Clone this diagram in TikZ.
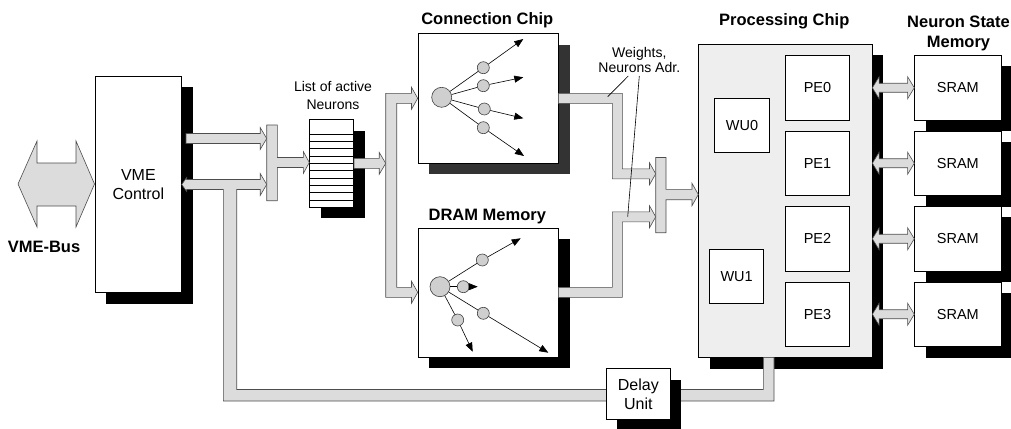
\documentclass[tikz,border=0pt]{standalone}
\usepackage{fontspec}
\setmainfont{Liberation Sans}
\usetikzlibrary{shadows,arrows.meta,calc}
\definecolor{busfill}{HTML}{DCDCDC}
\definecolor{busline}{HTML}{4D4D4D}
\definecolor{chipfill}{HTML}{EEEEEE}
\definecolor{cellfill}{HTML}{CFCFCF}
\tikzset{
  box/.style={draw, fill=white, line width=0.7pt, inner sep=0pt, align=center, anchor=north west},
  shadowed/.style={drop shadow={shadow xshift=11pt, shadow yshift=-11pt, fill=#1, opacity=1}},
  shadowed/.default=black,
  bus/.style={fill=busfill, draw=busline, line width=0.6pt, line join=miter},
  busR/.style={bus, to path={let \p1=(\tikztostart), \p2=(\tikztotarget) in
      (\x1,\y1+5pt) -- (\x2-6.5pt,\y1+5pt) -- (\x2-6.5pt,\y1+11pt) -- (\x2,\y1)
      -- (\x2-6.5pt,\y1-11pt) -- (\x2-6.5pt,\y1-5pt) -- (\x1,\y1-5pt) -- cycle}},
  busLR/.style={bus, to path={let \p1=(\tikztostart), \p2=(\tikztotarget) in
      (\x1,\y1) -- (\x1+6.7pt,\y1+11pt) -- (\x1+6.7pt,\y1+4.5pt) -- (\x2-6.7pt,\y1+4.5pt)
      -- (\x2-6.7pt,\y1+11pt) -- (\x2,\y1) -- (\x2-6.7pt,\y1-11pt) -- (\x2-6.7pt,\y1-4.5pt)
      -- (\x1+6.7pt,\y1-4.5pt) -- (\x1+6.7pt,\y1-11pt) -- cycle}},
  neuron/.style={circle, draw=black!75, fill=cellfill, line width=0.6pt, inner sep=0pt, minimum size=#1},
  neuron/.default=12pt,
  chiptitle/.style={font=\fontsize{16.5}{20}\selectfont\bfseries, align=center},
  smalltext/.style={font=\fontsize{14}{18.3}\selectfont, align=center},
  fan/.style={line width=0.6pt, -{Triangle[length=9pt,width=7pt]}},
}
\begin{document}
\begin{tikzpicture}[x=1pt, y=-1pt, line join=miter, font=\fontsize{14.5}{18}\selectfont]
\useasboundingbox (0,0) rectangle (1011,428);
\clip (0,0) rectangle (1011,428);

\node[box, shadowed, minimum width=86.6pt, minimum height=216.3pt, font=\fontsize{16}{19}\selectfont] (vme) at (94.7,76) {VME\\Control};
\node[box, shadowed, minimum width=44pt, minimum height=87.4pt] (lst) at (309.3,119.3) {};
\foreach \i in {0,...,9}
  \draw[line width=0.6pt] (lst.north west) ++(0,14.7+7.33*\i) -- ++(44,0);
\node[box, shadowed=black!80, minimum width=140.6pt, minimum height=129.4pt] (cchip) at (417.7,33.3) {};
\node[box, shadowed, minimum width=140.6pt, minimum height=129pt] (dram) at (417.7,227.7) {};
\node[box, shadowed, fill=chipfill, minimum width=173.4pt, minimum height=313.3pt] (pchip) at (698.3,44) {};
\node[box, minimum width=54.7pt, minimum height=54pt] (wu0) at (714.3,98.3) {WU0};
\node[box, minimum width=54pt, minimum height=54pt] (wu1) at (709.3,249.3) {WU1};
\foreach \i/\y in {0/55,1/130.5,2/206,3/281.5}{
  \node[box, minimum width=64.3pt, minimum height=64.8pt] (pe\i) at (785,\y) {PE\i};
  \node[box, shadowed, minimum width=86.4pt, minimum height=64.8pt] (sram\i) at (914.3,\y) {SRAM};
}

\path (186,138.5) coordinate (v1) (266.7,138.5) coordinate (m1a) (385.7,162.5) coordinate (br);
% busse
\filldraw[bus] (18,184) -- (37,141) -- (37,163) -- (76,163) -- (76,141) -- (94.5,184)
  -- (76,227) -- (76,206) -- (37,206) -- (37,227) -- cycle;
\draw[busR] (v1) to (m1a);
\filldraw[bus] (181.7,184.5) -- (186.7,177.5) -- (186.7,179.5) -- (260.2,179.5) -- (260.2,173.5)
  -- (266.7,184.5) -- (260.2,195.5) -- (260.2,189.5) -- (236.7,189.5) -- (236.7,389.5)
  -- (763.3,389.5) -- (763.3,357.3) -- (774,357.3) -- (774,401) -- (223.3,401)
  -- (223.3,189.5) -- (186.7,189.5) -- (186.7,191.5) -- cycle;
\filldraw[bus] (266.7,125) -- (277.3,125) -- (277.3,157.5) -- (303.3,157.5) -- (303.3,151.5)
  -- (309.3,162.5) -- (303.3,173.5) -- (303.3,167.5) -- (277.3,167.5) -- (277.3,200.7)
  -- (266.7,200.7) -- cycle;
\draw[busR] (lst.east) to (br);
\filldraw[bus] (385.7,93.3) -- (411.5,93.3) -- (411.5,87.3) -- (417.7,98.3) -- (411.5,109.3)
  -- (411.5,103.3) -- (396.7,103.3) -- (396.7,287.3) -- (411.5,287.3) -- (411.5,281.3)
  -- (417.7,292.3) -- (411.5,303.3) -- (411.5,297.3) -- (385.7,297.3) -- cycle;
\filldraw[bus] (558.3,93.3) -- (622.3,93.3) -- (622.3,168.8) -- (649.5,168.8) -- (649.5,162.8)
  -- (655.7,173.8) -- (649.5,184.8) -- (649.5,178.8) -- (612.3,178.8) -- (612.3,103.3)
  -- (558.3,103.3) -- cycle;
\filldraw[bus] (558.3,297.3) -- (622.3,297.3) -- (622.3,221.8) -- (649.5,221.8) -- (649.5,227.8)
  -- (655.7,216.8) -- (649.5,205.8) -- (649.5,211.8) -- (612.3,211.8) -- (612.3,287.3)
  -- (558.3,287.3) -- cycle;
\filldraw[bus] (655.7,157.5) -- (666,157.5) -- (666,189.3) -- (692,189.3) -- (692,183.3)
  -- (698.3,194.5) -- (692,205.7) -- (692,199.7) -- (666,199.7) -- (666,232.7)
  -- (655.7,232.7) -- cycle;
\foreach \i in {0,...,3}
  \draw[busLR] (pchip.east |- pe\i.east) to (sram\i.west);

\node[box, shadowed, minimum width=64pt, minimum height=51pt, font=\fontsize{16}{19.3}\selectfont] (delay) at (606,368.3) {Delay\\Unit};

% neuronen
\node[neuron=20pt] (cbig) at (441.7,97.3) {};
\foreach \n/\sx/\sy/\tx/\ty in {1/483.3/67.7/523.3/39, 2/483.3/85.7/523.3/77.3, 3/484.3/109/523.3/118.3, 4/483.3/127.7/524/156}{
  \node[neuron] (cs\n) at (\sx,\sy) {};
  \coordinate (ct\n) at (\tx,\ty);
  \draw[line width=0.6pt] (cbig) -- (cs\n);
  \draw[fan] (cs\n) -- (ct\n);
}
\node[neuron=20pt] (dbig) at (440,286.7) {};
\foreach \n/\sx/\sy/\tx/\ty in {1/482.3/260/520.7/238.3, 2/463.3/286.7/477.7/286.7, 3/483.3/313.3/548.3/352.7, 4/457.7/320/472.7/351.7}{
  \node[neuron] (ds\n) at (\sx,\sy) {};
  \coordinate (dt\n) at (\tx,\ty);
  \draw[line width=0.6pt] (dbig) -- (ds\n);
  \draw[fan] (ds\n) -- (dt\n);
}

\node[chiptitle] (busname) at (44,247) {VME-Bus};
\node[smalltext] (lstname) at (333,95.5) {List of active\\Neurons};
\node[chiptitle] (ccname) at (487.3,19.8) {Connection Chip};
\node[chiptitle] (dramname) at (487.3,216.5) {DRAM Memory};
\node[chiptitle] (pcname) at (784.3,21.5) {Processing Chip};
\node[chiptitle] (memname) at (958.5,33.2) {Neuron State\\Memory};
\node[smalltext, font=\fontsize{14}{15.4}\selectfont] (wname) at (639.3,60) {Weights,\\Neurons Adr.};
\path (628.3,76) coordinate (wl1) (607.7,96.7) coordinate (wt1)
      (639.3,76) coordinate (wl2) (627.7,216.7) coordinate (wt2);
\draw[line width=0.6pt] (wl1) -- (wt1) (wl2) -- (wt2);
\end{tikzpicture}
\end{document}
